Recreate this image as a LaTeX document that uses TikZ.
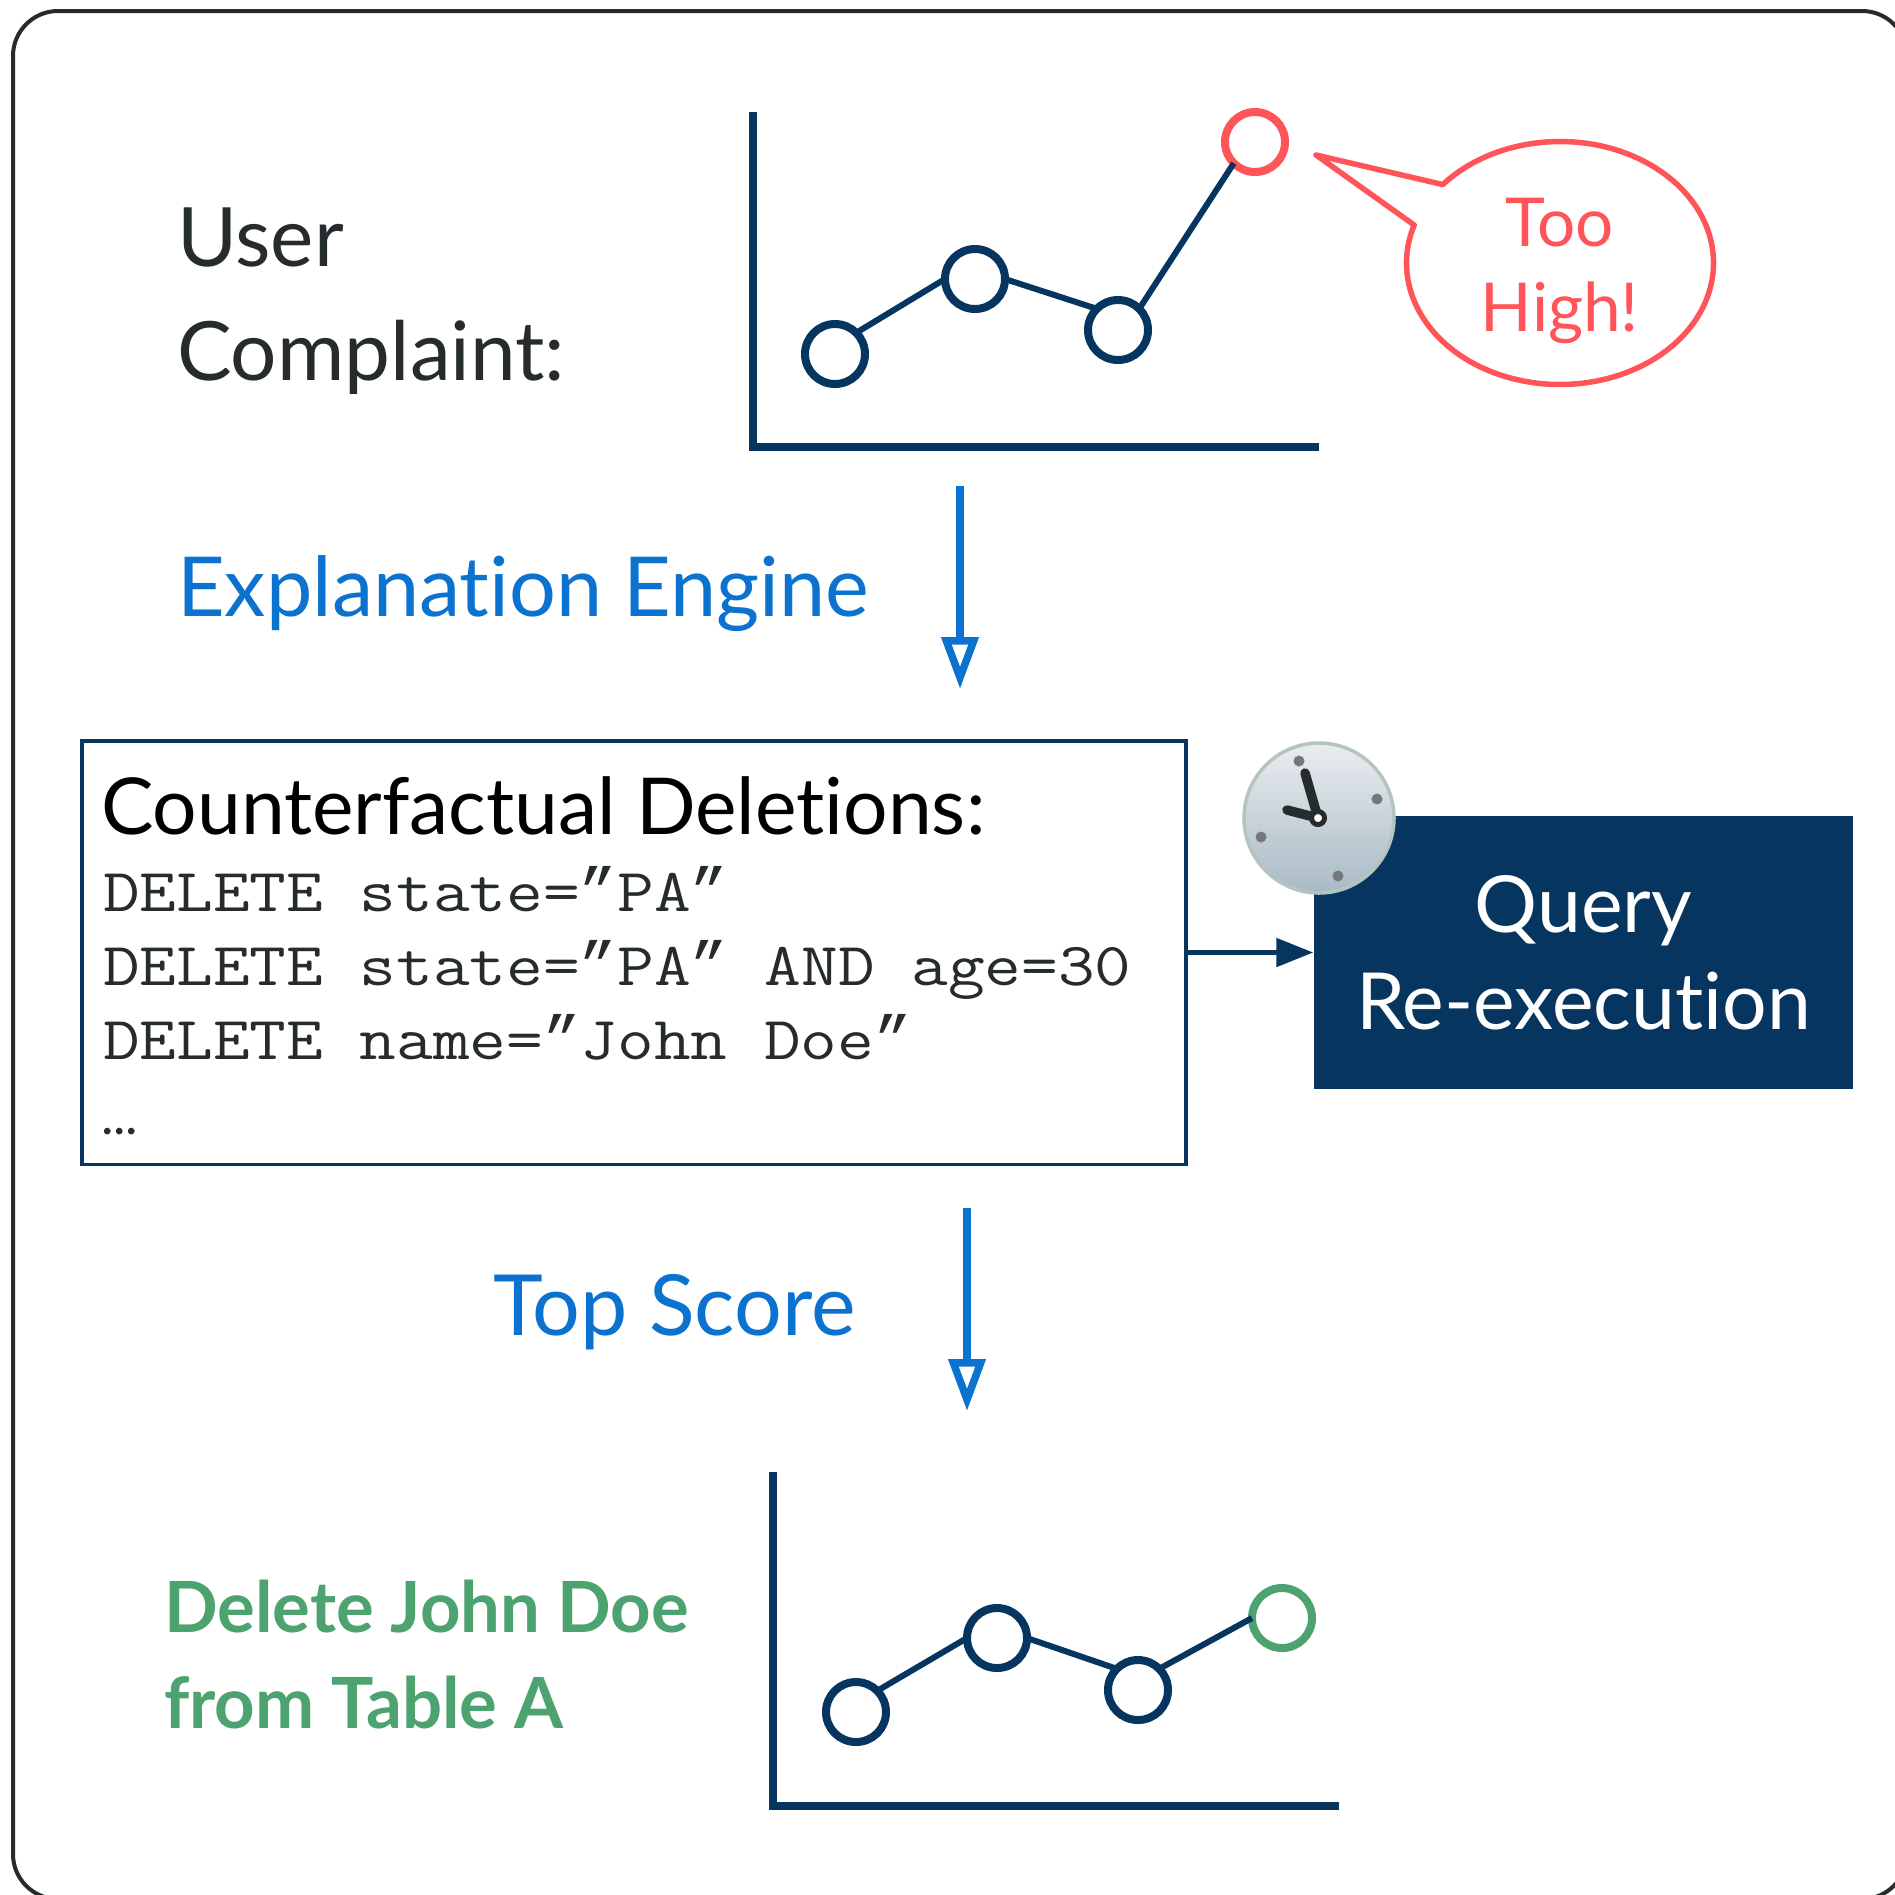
\documentclass[tikz,border=0pt]{standalone}
\usepackage{fontspec}
\setmainfont[Ligatures=CommonOff]{Lato}
\setmonofont[FakeStretch=1.165]{Latin Modern Mono}
\newfontfamily\quotefont{Liberation Mono}
\newcommand{\cq}{{\quotefont\fontsize{17.7pt}{21pt}\selectfont ”}}
\usetikzlibrary{arrows.meta,shapes.callouts}
\definecolor{navy}{HTML}{06355F}
\definecolor{flagred}{HTML}{FF5558}
\definecolor{engineblue}{HTML}{0B72CF}
\definecolor{okgreen}{HTML}{4CA36F}
\definecolor{inktext}{HTML}{262B2E}
\definecolor{clocktop}{HTML}{E9EDF0}
\definecolor{clockmid}{HTML}{D3DADE}
\definecolor{clockbot}{HTML}{A9BAC5}
\definecolor{clockrim}{HTML}{B4C4BE}
\definecolor{clocktick}{HTML}{75787B}

\begin{document}
\begin{tikzpicture}[x=0.1mm,y=-0.1mm,>=stealth,
    point node/.style={circle,draw=navy,line width=8*0.1mm,fill=white,minimum size=60*0.1mm,inner sep=0pt,outer sep=0pt},
    bad node/.style={point node,draw=flagred},
    good node/.style={point node,draw=okgreen},
    label node/.style={anchor=base west,inner sep=0pt,outer sep=0pt,align=left},
    big text/.style={font=\fontsize{#1}{32.4pt}\selectfont},
    code node/.style={label node,text=inktext,font=\fontsize{17.4pt}{21pt}\ttfamily},
    axis line/.style={draw=navy,line width=8*0.1mm},
    point line/.style={draw=navy,line width=6*0.1mm},
    engine arrow/.style={draw=engineblue,line width=8*0.1mm,-{Triangle[open,length=52*0.1mm,width=36*0.1mm,line width=7.5*0.1mm]}},
    tick dot/.style={circle,fill=clocktick,inner sep=0pt,minimum size=11*0.1mm}]

    \useasboundingbox (0,0) rectangle (1895,1894);
    \clip (0,0) rectangle (1895,1894);

    \draw[draw=inktext,line width=4*0.1mm,rounded corners=45*0.1mm] (13,11) rectangle (1907,1899);

    \node (user) at (177,380) [label node,big text=23.3pt,text=inktext]{User\\Complaint:};

    \coordinate (axisa) at (753,112);
    \coordinate (origina) at (753,447);
    \coordinate (enda) at (1319,447);
    \draw[axis line] (axisa) -- (origina) -- (enda);

    \node (a1) at (835,354) [point node]{};
    \node (a2) at (975,279) [point node]{};
    \node (a3) at (1118,330) [point node]{};
    \node (a4) at (1255,142) [bad node]{};
    \path[point line] (a1.north east) edge (a2.west) (a2.east) edge (a3.north west) (a3.north east) edge (a4.south west);

    \node (bubble) at (1560,263) [ellipse callout,draw=flagred,line width=5.5*0.1mm,line join=round,
        minimum width=307*0.1mm,minimum height=243*0.1mm,inner sep=0pt,
        callout absolute pointer={(1316,155)},callout pointer arc=22]{};
    \node (complaint) at (1560,331) [anchor=base,inner sep=0pt,text=flagred,align=center,font=\fontsize{19.2pt}{24pt}\selectfont]{Too\\High!};

    \coordinate (enginetop) at (960,486);
    \coordinate (enginebot) at (960,689);
    \draw[engine arrow] (enginetop) -- (enginebot);
    \node (engine) at (177,616) [label node,big text=23.55pt,text=engineblue]{Explanation Engine};

    \node (box) at (634,952.5) [draw=navy,line width=3.5*0.1mm,minimum width=1104*0.1mm,minimum height=423.5*0.1mm,inner sep=0pt]{};
    \node (title) at (101,834) [label node,big text=22.35pt,text=black]{Counterfactual Deletions:};
    \node (code1) at (103,911) [code node]{DELETE state=\cq PA\cq};
    \node (code2) at (103,985) [code node]{DELETE state=\cq PA\cq{} AND age=30};
    \node (code3) at (103,1059) [code node]{DELETE name=\cq John Doe\cq};
    \node (more) at (101,1134) [label node,text=inktext,font=\fontsize{15pt}{17pt}\selectfont]{...};

    \node (query) at (1583.5,952.5) [fill=navy,minimum width=539*0.1mm,minimum height=273*0.1mm,inner sep=0pt,
        text=white,align=center,font=\fontsize{22.4pt}{27.5pt}\selectfont]{Query\\Re-execution};
    \draw[draw=navy,line width=5*0.1mm,-{Triangle[length=37*0.1mm,width=28*0.1mm]}] (box.east) -- (query.west);

    \node (clock) at (1319,818) [circle,draw=clockrim,line width=3.5*0.1mm,top color=clocktop,middle color=clockmid,bottom color=clockbot,
        minimum size=150*0.1mm,inner sep=0pt]{};
    \node (tick1) at (1299,761) [tick dot]{};
    \node (tick2) at (1377,799) [tick dot]{};
    \node (tick3) at (1261,837) [tick dot]{};
    \node (tick4) at (1338,876) [tick dot]{};
    \coordinate (hub) at (1318,818);
    \coordinate (longhand) at (1305,773);
    \coordinate (shorthand) at (1287,810);
    \draw[draw=inktext,line width=9.5*0.1mm,line cap=round] (hub) -- (longhand);
    \draw[draw=inktext,line width=9.5*0.1mm,line cap=round] (hub) -- (shorthand);
    \node (pin) at (hub) [circle,draw=inktext,fill=white,line width=5*0.1mm,minimum size=13*0.1mm,inner sep=0pt]{};

    \coordinate (scoretop) at (967,1208);
    \coordinate (scorebot) at (967,1411);
    \draw[engine arrow] (scoretop) -- (scorebot);
    \node (score) at (493,1335) [label node,big text=24pt,text=engineblue]{Top Score};

    \node (fix) at (164,1728) [label node,text=okgreen,font=\fontsize{20.1pt}{27.3pt}\bfseries\selectfont]{Delete John Doe\\from Table A};

    \coordinate (axisb) at (773,1472);
    \coordinate (originb) at (773,1806);
    \coordinate (endb) at (1339,1806);
    \draw[axis line] (axisb) -- (originb) -- (endb);

    \node (b1) at (856,1712) [point node]{};
    \node (b2) at (997,1638) [point node]{};
    \node (b3) at (1138,1690) [point node]{};
    \node (b4) at (1282,1618) [good node]{};
    \path[point line] (b1.north east) edge (b2.west) (b2.east) edge (b3.north west) (b3.north east) edge (b4.west);
\end{tikzpicture}
\end{document}
